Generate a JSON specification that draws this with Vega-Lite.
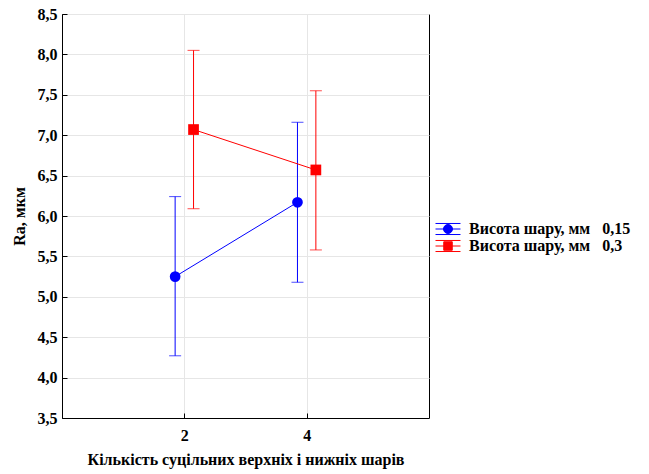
{
  "$schema": "https://vega.github.io/schema/vega-lite/v6.json",
  "width": 367,
  "height": 404,
  "autosize": {"type": "none"},
  "padding": {"left": 62, "top": 14, "right": 220, "bottom": 56},
  "background": "white",
  "config": {
    "font": "Liberation Serif",
    "view": {"stroke": "black", "strokeWidth": 1},
    "axis": {
      "labelFont": "Liberation Serif",
      "labelFontWeight": "bold",
      "labelFontSize": 16,
      "labelColor": "black",
      "titleFont": "Liberation Serif",
      "titleFontWeight": "bold",
      "titleFontSize": 16,
      "titleColor": "black",
      "domainColor": "black",
      "tickColor": "black",
      "gridColor": "#e6e6e6",
      "gridWidth": 1
    }
  },
  "data": {
    "values": [
      {"layers": 2, "group": "0,15", "mean": 5.25, "lower": 4.27, "upper": 6.24},
      {"layers": 4, "group": "0,15", "mean": 6.17, "lower": 5.18, "upper": 7.16},
      {"layers": 2, "group": "0,3", "mean": 7.07, "lower": 6.09, "upper": 8.05},
      {"layers": 4, "group": "0,3", "mean": 6.57, "lower": 5.58, "upper": 7.55}
    ]
  },
  "encoding": {
    "x": {
      "field": "layers",
      "type": "ordinal",
      "scale": {"type": "point", "domain": [2, 4], "padding": 1},
      "axis": {
        "title": "Кількість суцільних верхніх і нижніх шарів",
        "titlePadding": 8,
        "labelPadding": 14,
        "labelAngle": 0,
        "tickSize": -5,
        "grid": true
      }
    },
    "xOffset": {
      "field": "group",
      "type": "nominal",
      "scale": {"type": "point", "domain": ["0,15", "0,3"], "range": [-9.2, 9.2], "padding": 0}
    },
    "color": {
      "field": "group",
      "type": "nominal",
      "scale": {"domain": ["0,15", "0,3"], "range": ["#0000ff", "#ff0000"]},
      "legend": {
        "title": null,
        "orient": "none",
        "legendX": 377,
        "legendY": 206,
        "padding": 0,
        "symbolSize": 289,
        "symbolStrokeWidth": 1,
        "symbolOpacity": 1,
        "labelFont": "Liberation Serif",
        "labelFontWeight": "bold",
        "labelFontSize": 16,
        "labelColor": "black",
        "labelOffset": 12,
        "labelLimit": 400,
        "rowPadding": 0,
        "labelExpr": "'Висота шару, мм\u00a0\u00a0\u00a0' + datum.label"
      }
    }
  },
  "layer": [
    {
      "mark": {"type": "rule", "strokeWidth": 1},
      "encoding": {
        "y": {
          "field": "lower",
          "type": "quantitative",
          "scale": {"domain": [3.5, 8.5], "nice": false, "zero": false},
          "axis": {
            "values": [3.5, 4, 4.5, 5, 5.5, 6, 6.5, 7, 7.5, 8, 8.5],
            "labelExpr": "replace(format(datum.value, '.1f'), '.', ',')",
            "title": "Ra, мкм",
            "titlePadding": 10,
            "labelPadding": 10,
            "tickSize": -5,
            "grid": true
          }
        },
        "y2": {"field": "upper"}
      }
    },
    {
      "mark": {"type": "tick", "orient": "horizontal", "size": 12, "thickness": 1},
      "encoding": {"y": {"field": "upper", "type": "quantitative"}}
    },
    {
      "mark": {"type": "tick", "orient": "horizontal", "size": 12, "thickness": 1},
      "encoding": {"y": {"field": "lower", "type": "quantitative"}}
    },
    {
      "mark": {"type": "line", "strokeWidth": 1},
      "encoding": {"y": {"field": "mean", "type": "quantitative"}}
    },
    {
      "transform": [{"filter": "datum.group === '0,15'"}],
      "mark": {"type": "point", "shape": "circle", "filled": true, "opacity": 1, "size": 115},
      "encoding": {"y": {"field": "mean", "type": "quantitative"}}
    },
    {
      "transform": [{"filter": "datum.group === '0,3'"}],
      "mark": {"type": "point", "shape": "square", "filled": true, "opacity": 1, "size": 115},
      "encoding": {"y": {"field": "mean", "type": "quantitative"}}
    },
    {
      "mark": {"type": "point", "filled": true, "opacity": 1, "size": 1, "strokeWidth": 1},
      "encoding": {
        "y": {"field": "mean", "type": "quantitative"},
        "stroke": {
          "field": "group",
          "type": "nominal",
          "scale": {"domain": ["0,15", "0,3"], "range": ["#0000ff", "#ff0000"]}
        },
        "shape": {
          "field": "group",
          "type": "nominal",
          "scale": {
            "domain": ["0,15", "0,3"],
            "range": [
              "M-1.47,0H1.47M-1.47,-0.65H1.47M-1.47,0.65H1.47M-0.53,0A0.53,0.53,0,1,0,0.53,0A0.53,0.53,0,1,0,-0.53,0Z",
              "M-1.47,0H1.47M-1.47,-0.65H1.47M-1.47,0.65H1.47M-0.5,-0.5H0.5V0.5H-0.5Z"
            ]
          }
        }
      }
    }
  ]
}
